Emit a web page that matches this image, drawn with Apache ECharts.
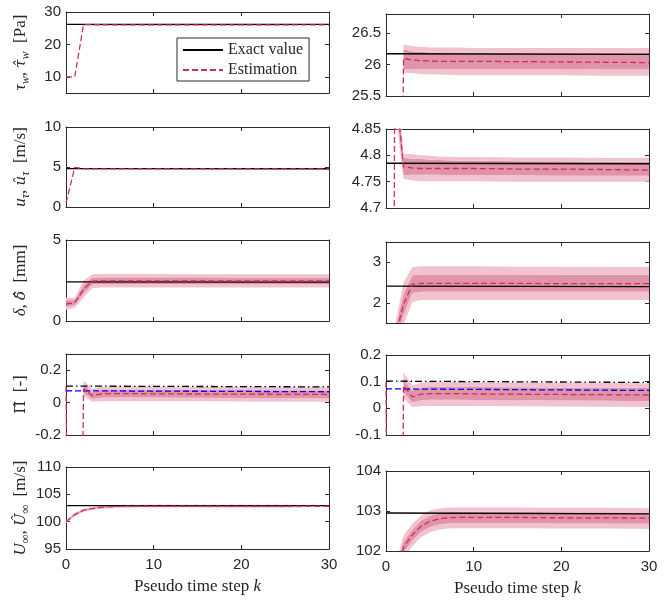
<!DOCTYPE html>
<html><head><meta charset="utf-8">
<script src="https://cdn.jsdelivr.net/npm/echarts@6/dist/echarts.min.js"></script>
<style>html,body{margin:0;padding:0;background:#fff}#c{width:665px;height:602px}</style>
</head><body><div id="c"></div>
<script>
// ---------- x axis ----------
const kCategories = ['0','1','2','3','4','5','6','7','8','9','10','11','12','13','14','15','16','17','18','19','20','21','22','23','24','25','26','27','28','29','30'];
const exactK = [0, 30];

// ---------- Panel 1: wall shear stress tau_w ----------
const tauK = [0,1,2,3,4,5,6,8,10,15,20,25,30];
const tauEst = [10,10,26.10,26.07,26.06,26.055,26.05,26.05,26.05,26.045,26.04,26.035,26.03];
const tauExact = [26.17, 26.16];
const tauBandK = [2,3,4,5,6,8,10,15,20,25,30];
const tauOuterLo = [25.87,25.86,25.85,25.84,25.84,25.83,25.83,25.83,25.83,25.82,25.82];
const tauInnerLo = [25.92,25.93,25.93,25.93,25.93,25.93,25.93,25.93,25.93,25.92,25.92];
const tauInnerHi = [26.24,26.21,26.20,26.19,26.19,26.19,26.19,26.18,26.18,26.18,26.18];
const tauOuterHi = [26.32,26.29,26.28,26.27,26.27,26.27,26.26,26.26,26.26,26.26,26.26];

// ---------- Panel 2: friction velocity u_tau ----------
const utK = [0,1,2,3,4,5,6,8,10,15,20,25,30];
const utEst = [0.5,4.95,4.778,4.776,4.775,4.775,4.775,4.775,4.775,4.774,4.774,4.773,4.772];
const utExact = [4.785, 4.784];
const utBandK = [1,2,3,4,5,6,8,10,15,20,25,30];
const utOuterLo = [4.89,4.755,4.752,4.751,4.751,4.751,4.751,4.751,4.750,4.750,4.750,4.750];
const utInnerLo = [4.92,4.762,4.763,4.763,4.763,4.763,4.762,4.762,4.762,4.761,4.761,4.761];
const utInnerHi = [4.98,4.795,4.794,4.793,4.792,4.791,4.790,4.790,4.789,4.789,4.788,4.788];
const utOuterHi = [5.01,4.803,4.802,4.800,4.799,4.798,4.797,4.797,4.796,4.796,4.795,4.795];

// ---------- Panel 3: boundary layer thickness delta ----------
const dK = [0,1,2,3,4,5,6,8,10,15,20,25,30];
const dEst = [1.05,1.13,1.95,2.46,2.48,2.48,2.48,2.48,2.48,2.48,2.47,2.47,2.47];
const dExact = [2.41, 2.40];
const dOuterLo = [0.70,0.82,1.45,2.02,2.07,2.07,2.07,2.07,2.07,2.07,2.07,2.07,2.07];
const dInnerLo = [0.88,0.97,1.70,2.25,2.27,2.27,2.27,2.27,2.27,2.27,2.27,2.27,2.27];
const dInnerHi = [1.28,1.30,2.22,2.68,2.70,2.70,2.70,2.70,2.70,2.70,2.69,2.69,2.69];
const dOuterHi = [1.45,1.42,2.50,2.88,2.90,2.90,2.90,2.90,2.90,2.89,2.89,2.88,2.88];

// ---------- Panel 4: wake parameter Pi ----------
const piK = [0,1,2,3,4,5,6,8,10,15,20,25,30];
const piEst = [0.10,-5,0.085,0.043,0.053,0.055,0.055,0.055,0.054,0.053,0.052,0.051,0.050];
const piExact = [0.102, 0.097];
const piBlue = [0.073, 0.067];
const piBandK = [2,3,4,5,6,8,10,15,20,25,30];
const piOuterLo = [0.040,0.005,0.008,0.009,0.009,0.009,0.009,0.008,0.007,0.006,0.005];
const piInnerLo = [0.060,0.022,0.030,0.032,0.032,0.032,0.031,0.030,0.029,0.028,0.027];
const piInnerHi = [0.110,0.065,0.078,0.080,0.080,0.080,0.080,0.079,0.078,0.077,0.076];
const piOuterHi = [0.135,0.085,0.097,0.099,0.099,0.099,0.098,0.097,0.096,0.095,0.094];

// ---------- Panel 5: free-stream velocity U_inf ----------
const uK = [0,1,2,3,4,5,6,7,8,10,15,20,25,30];
const uEst = [100.0,101.3,102.1,102.4,102.62,102.74,102.8,102.83,102.84,102.84,102.84,102.83,102.83,102.82];
const uExact = [102.95, 102.93];
const uOuterLo = [99.70,101.00,101.82,102.12,102.35,102.47,102.53,102.56,102.57,102.57,102.57,102.56,102.56,102.55];
const uInnerLo = [99.85,101.15,101.96,102.26,102.48,102.60,102.66,102.69,102.70,102.70,102.70,102.69,102.69,102.68];
const uInnerHi = [100.15,101.45,102.24,102.54,102.76,102.88,102.94,102.97,102.98,102.98,102.98,102.97,102.97,102.96];
const uOuterHi = [100.30,101.60,102.38,102.68,102.89,103.01,103.06,103.08,103.09,103.09,103.09,103.08,103.08,103.07];

// ---------- y tick labels ----------
const yTicks = [
  [[10,20,30], [25.5,26,26.5]],
  [[0,5,10], [4.7,4.75,4.8,4.85]],
  [[0,5], [2,3]],
  [[-0.2,0,0.2], [-0.1,0,0.1,0.2]],
  [[95,100,105,110], [102,103,104]]
];
const yRanges = [
  [[5,30], [25.5,26.8]],
  [[0,10], [4.7,4.85]],
  [[0,5], [1.5,3.5]],
  [[-0.2,0.3], [-0.1,0.2]],
  [[95,110], [102,104]]
];
const yNames = [
  '{i|τ}{s|w}{n|, }{h|τ\u0302}{s|w}{n|  [Pa]}',
  '{i|u}{s|τ}{n|, }{h|u\u0302}{s|τ}{n|  [m/s]}',
  '{i|δ}{n|, }{h|δ\u0302}{n|  [mm]}',
  '{hn|Π\u0302}{n|  [-]}',
  '{i|U}{s|∞}{n|, }{h|U\u0302}{s|∞}{n|  [m/s]}'
];
const xName = '{n|Pseudo time step }{i|k}';

// ---------- styling ----------
const FRAME = '#2b2b2b';
const SERIF = '"Liberation Serif","DejaVu Serif",serif';
const DSERIF = '"DejaVu Serif",serif';
const SANS = '"Liberation Sans",Arial,sans-serif';
const LIGHT = '#F1C3CF', DARK = '#E094A9', RED = '#CF2E5A';

const gridPos = [
  [66,12,263,81],[386,14,263,82],
  [66,127,263,80],[386,129,263,79],
  [66,240,263,81],[386,242,263,81],
  [66,354,263,81],[386,355,263,80],
  [66,467,263,82],[386,471,263,80]
];

const panelData = [
  {est:[tauK,tauEst], exact:tauExact, band:[tauBandK,tauOuterLo,tauInnerLo,tauInnerHi,tauOuterHi]},
  {est:[utK,utEst], exact:utExact, band:[utBandK,utOuterLo,utInnerLo,utInnerHi,utOuterHi]},
  {est:[dK,dEst], exact:dExact, band:[dK,dOuterLo,dInnerLo,dInnerHi,dOuterHi]},
  {est:[piK,piEst], exact:piExact, band:[piBandK,piOuterLo,piInnerLo,piInnerHi,piOuterHi], blue:piBlue, dashdot:true},
  {est:[uK,uEst], exact:uExact, band:[uK,uOuterLo,uInnerLo,uInnerHi,uOuterHi]}
];

function pts(ks, vs){ return ks.map((k,i)=>[k, vs[i]]); }
function diff(a,b){ return a.map((v,i)=>+(v-b[i]).toFixed(6)); }
const fmt = v => String(parseFloat(Number(v).toFixed(4)));

const richName = {
  n:{fontFamily:SERIF,fontSize:17,color:'#262626',lineHeight:22},
  i:{fontFamily:SERIF,fontSize:17,fontStyle:'italic',color:'#262626',lineHeight:22},
  h:{fontFamily:DSERIF,fontSize:15,fontStyle:'italic',color:'#262626',lineHeight:22},
  hn:{fontFamily:DSERIF,fontSize:15,color:'#262626',lineHeight:22},
  s:{fontFamily:SERIF,fontSize:12,fontStyle:'italic',color:'#262626',lineHeight:12,verticalAlign:'bottom'}
};

const grids=[], xAxes=[], yAxes=[], series=[];

for (let r=0; r<5; r++){
  for (let c=0; c<2; c++){
    const gi = r*2+c;
    const [l,t,w,h] = gridPos[gi];
    grids.push({left:l, top:t, width:w, height:h, containLabel:false});
    const bottomRow = (r===4);
    const xBase = {
      type:'category', data:kCategories, boundaryGap:false, gridIndex:gi,
      axisLine:{show:true, onZero:false, lineStyle:{color:FRAME,width:1}},
      axisTick:{show:true, inside:true, length:4, interval:9, lineStyle:{color:FRAME}},
      splitLine:{show:false}
    };
    xAxes.push(Object.assign({}, xBase, {
      position:'bottom',
      axisLabel:{show:bottomRow, interval:9, fontFamily:SANS, fontSize:15, color:'#262626', margin:8},
      name: bottomRow ? xName : '', nameLocation:'middle', nameGap:27,
      nameTextStyle:{rich:richName}
    }));
    xAxes.push(Object.assign({}, xBase, {position:'top', axisLabel:{show:false}}));

    const [ymin,ymax] = yRanges[r][c];
    const ticks = yTicks[r][c];
    const yBase = {
      type:'value', gridIndex:gi, min:ymin, max:ymax,
      axisLine:{show:true, onZero:false, lineStyle:{color:FRAME,width:1}},
      axisTick:{show:true, inside:true, length:4, customValues:ticks, lineStyle:{color:FRAME}},
      splitLine:{show:false}
    };
    yAxes.push(Object.assign({}, yBase, {
      position:'left',
      axisLabel:{show:true, customValues:ticks, formatter:fmt, fontFamily:SANS, fontSize:15, color:'#262626', margin:5},
      name: c===0 ? yNames[r] : '', nameLocation:'middle', nameRotate:90, nameGap:34,
      nameTextStyle:{rich:richName}
    }));
    yAxes.push(Object.assign({}, yBase, {position:'right', axisLabel:{show:false}}));

    const pd = panelData[r];
    const xi = gi*2, yi = gi*2;
    const [bk, oLo, iLo, iHi, oHi] = pd.band;
    const bb = {type:'line', xAxisIndex:xi, yAxisIndex:yi, stack:'band'+gi, stackStrategy:'all',
      symbol:'none', silent:true, animation:false, lineStyle:{width:0,opacity:0}, z:1};
    series.push(Object.assign({}, bb, {name:'lo'+gi, data:pts(bk,oLo)}));
    series.push(Object.assign({}, bb, {name:'ol'+gi, data:pts(bk,diff(iLo,oLo)), areaStyle:{color:LIGHT,opacity:1}}));
    series.push(Object.assign({}, bb, {name:'in'+gi, data:pts(bk,diff(iHi,iLo)), areaStyle:{color:DARK,opacity:1}}));
    series.push(Object.assign({}, bb, {name:'ou'+gi, data:pts(bk,diff(oHi,iHi)), areaStyle:{color:LIGHT,opacity:1}}));

    if (pd.blue){
      series.push({type:'line', name:'ref'+gi, xAxisIndex:xi, yAxisIndex:yi, symbol:'none', animation:false, z:3,
        data:pts(exactK,pd.blue), lineStyle:{color:'#0000FF', width:1.3, type:[6,3]}});
    }
    series.push({type:'line', name: gi===0 ? 'Exact value' : 'exact'+gi, xAxisIndex:xi, yAxisIndex:yi,
      symbol:'none', animation:false, z:3, data:pts(exactK,pd.exact),
      lineStyle:{color:'#000', width:1.3, type: pd.dashdot ? [7,3,1.5,3] : 'solid'}});
    series.push({type:'line', name: gi===0 ? 'Estimation' : 'est'+gi, xAxisIndex:xi, yAxisIndex:yi,
      symbol:'none', animation:false, z:4, data:pts(pd.est[0],pd.est[1]),
      lineStyle:{color:RED, width:1.3, type:[6,3]}});
  }
}

const chart = echarts.init(document.getElementById('c'), null, {renderer:'canvas'});
chart.setOption({
  backgroundColor:'#fff',
  animation:false,
  grid:grids, xAxis:xAxes, yAxis:yAxes, series:series,
  legend:{
    data:[{name:'Exact value', itemStyle:{opacity:0}}, {name:'Estimation', itemStyle:{opacity:0}}],
    orient:'vertical', left:177, top:38,
    padding:[4,6,3,5], itemGap:4, itemWidth:40, itemHeight:14,
    backgroundColor:'#fff', borderColor:FRAME, borderWidth:1, borderRadius:0,
    textStyle:{fontFamily:SERIF, fontSize:16, color:'#262626'},
    selectedMode:false
  }
});
</script></body></html>
